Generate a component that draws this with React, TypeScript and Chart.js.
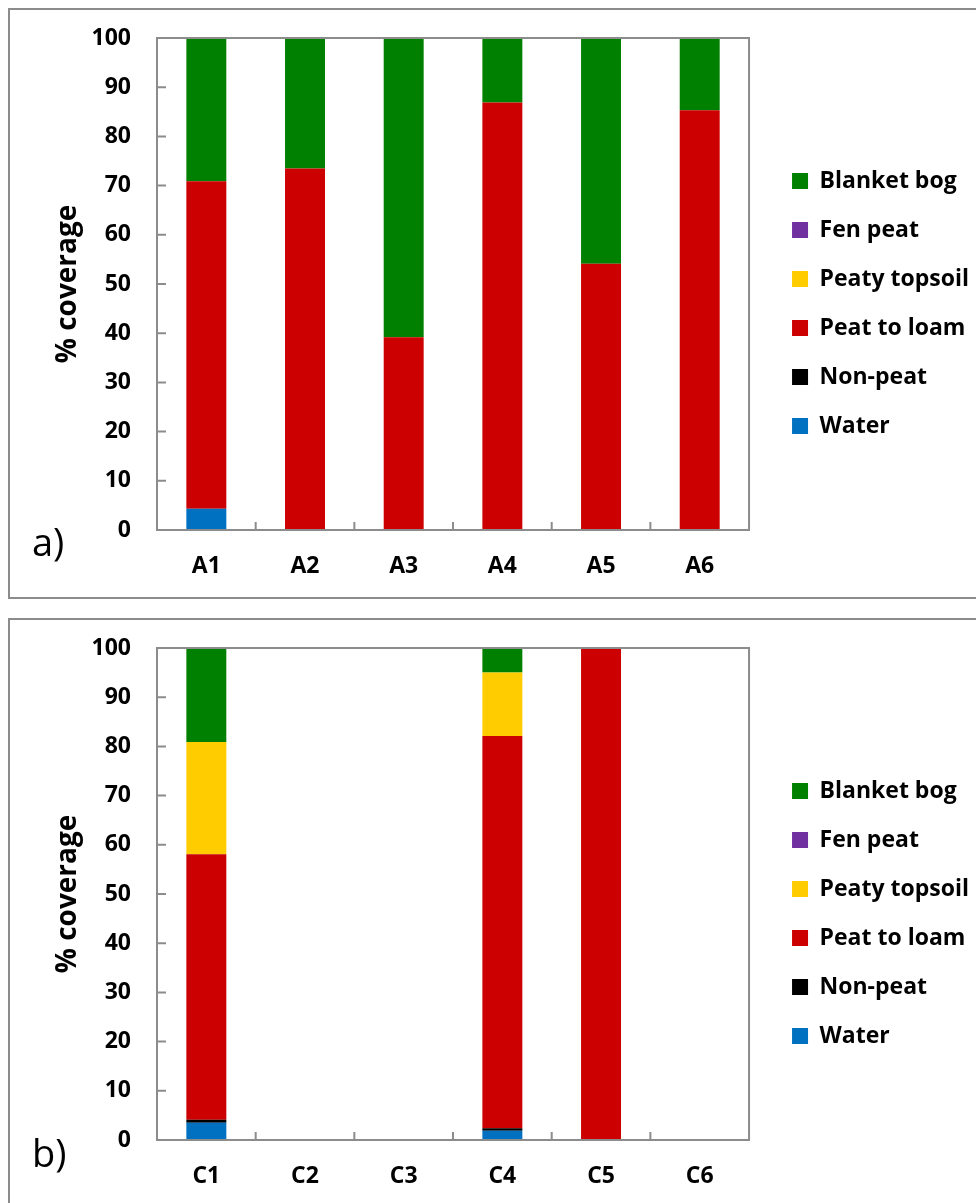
import React, { useEffect, useRef } from "react";
import { Chart, registerables } from "chart.js";

Chart.register(...registerables);

const FONT = "'Open Sans', 'DejaVu Sans', sans-serif";

const seriesNames = ["Water", "Non-peat", "Peat to loam", "Peaty topsoil", "Fen peat", "Blanket bog"];
const seriesColors = ["#0070C0", "#000000", "#CC0000", "#FFCC00", "#7030A0", "#008000"];
const yTickValues = [0, 10, 20, 30, 40, 50, 60, 70, 80, 90, 100];

const categoriesA = ["A1", "A2", "A3", "A4", "A5", "A6"];
const waterA = [4.3, 0, 0, 0, 0, 0];
const nonPeatA = [0, 0, 0, 0, 0, 0];
const peatToLoamA = [66.6, 73.5, 39.2, 86.9, 54.1, 85.3];
const peatyTopsoilA = [0, 0, 0, 0, 0, 0];
const fenPeatA = [0, 0, 0, 0, 0, 0];
const blanketBogA = [29.1, 26.5, 60.8, 13.1, 45.9, 14.7];

const categoriesC = ["C1", "C2", "C3", "C4", "C5", "C6"];
const waterC = [3.5, 0, 0, 1.9, 0, 0];
const nonPeatC = [0.6, 0, 0, 0.5, 0, 0];
const peatToLoamC = [54.0, 0, 0, 79.7, 100, 0];
const peatyTopsoilC = [22.8, 0, 0, 12.9, 0, 0];
const fenPeatC = [0, 0, 0, 0, 0, 0];
const blanketBogC = [19.1, 0, 0, 5.0, 0, 0];

const seriesA = [waterA, nonPeatA, peatToLoamA, peatyTopsoilA, fenPeatA, blanketBogA];
const seriesC = [waterC, nonPeatC, peatToLoamC, peatyTopsoilC, fenPeatC, blanketBogC];

const CANVAS_H = 587;
const AREA_LEFT = 147;
const AREA_TOP = 28;
const AREA_RIGHT = 739;
const AREA_BOTTOM = 520;
const LEGEND_GAP = 17;
const LEGEND_PAD = 26;
const LEGEND_FONT = 23;
const LEGEND_BOX = 16;

const framePlugin = {
  id: "frame",
  afterLayout(chart: any) {
    const lg = chart.legend;
    if (lg) {
      lg.left += LEGEND_GAP;
      lg.right += LEGEND_GAP;
    }
  },
  afterDatasetsDraw(chart: any) {
    const { ctx, chartArea, scales } = chart;
    const { left, top, right, bottom } = chartArea;
    const x = scales.x;
    const y = scales.y;
    ctx.save();
    ctx.strokeStyle = "#8c8c8c";
    ctx.lineWidth = 2;
    ctx.strokeRect(left, top, right - left, bottom - top);
    ctx.beginPath();
    y.ticks.forEach((t: any) => {
      const py = y.getPixelForValue(t.value);
      ctx.moveTo(left, py);
      ctx.lineTo(left + 9, py);
    });
    for (let i = 1; i < x.ticks.length; i++) {
      const px = (x.getPixelForValue(i - 1) + x.getPixelForValue(i)) / 2;
      ctx.moveTo(px, bottom);
      ctx.lineTo(px, bottom - 8);
    }
    ctx.stroke();
    ctx.restore();
  },
};

function makeChart(canvas: HTMLCanvasElement, W: number, categories: string[], series: number[][]) {
  canvas.width = W;
  canvas.height = CANVAS_H;
  canvas.style.width = W + "px";
  canvas.style.height = CANVAS_H + "px";
  const tickFont = { family: FONT, size: 23, weight: "bold" as const };
  return new Chart(canvas, {
    type: "bar",
    data: {
      labels: categories,
      datasets: seriesNames.map((name, i) => ({
        label: name,
        data: series[i],
        backgroundColor: seriesColors[i],
        borderWidth: 0,
        categoryPercentage: 1,
        barPercentage: 0.405,
      })),
    },
    options: {
      animation: false,
      responsive: false,
      maintainAspectRatio: false,
      layout: { padding: { left: 0, top: 0, bottom: 0, right: LEGEND_GAP } },
      plugins: {
        legend: {
          position: "right",
          reverse: true,
          maxWidth: 600,
          labels: {
            boxWidth: LEGEND_BOX,
            boxHeight: LEGEND_BOX,
            padding: LEGEND_PAD,
            color: "#000",
            font: { family: FONT, size: LEGEND_FONT, weight: "bold" },
          },
        },
        tooltip: { enabled: false },
      },
      scales: {
        x: {
          stacked: true,
          grid: { display: false, drawTicks: false },
          border: { display: false },
          ticks: { color: "#000", font: tickFont, padding: 23, maxRotation: 0 },
          afterFit: (s: any) => {
            s.height = CANVAS_H - AREA_BOTTOM;
            s.paddingLeft = 0;
            s.paddingRight = 0;
          },
        },
        y: {
          stacked: true,
          min: 0,
          max: 100,
          afterBuildTicks: (s: any) => {
            s.ticks = yTickValues.map((v) => ({ value: v }));
          },
          ticks: { color: "#000", font: tickFont, padding: 26 },
          grid: { display: false, drawTicks: false },
          border: { display: false },
          title: {
            display: true,
            text: "% coverage",
            color: "#000",
            font: { family: FONT, size: 28, weight: "bold" },
            padding: { top: 41, bottom: 0 },
          },
          afterFit: (s: any) => {
            s.width = AREA_LEFT;
            s.paddingTop = AREA_TOP;
            s.paddingBottom = 0;
          },
        },
      },
    } as any,
    plugins: [framePlugin],
  });
}

function Panel({ label, categories, series, top, labelTop }: { label: string; categories: string[]; series: number[][]; top: number; labelTop: number }) {
  const ref = useRef<HTMLCanvasElement | null>(null);

  useEffect(() => {
    const canvas = ref.current;
    if (!canvas) return;
    const mctx = document.createElement("canvas").getContext("2d")!;
    mctx.font = `bold ${LEGEND_FONT}px ${FONT}`;
    const maxW = Math.max(...seriesNames.map((n) => mctx.measureText(n).width));
    let W = Math.ceil(AREA_RIGHT + LEGEND_GAP + LEGEND_PAD + LEGEND_BOX + LEGEND_FONT / 2 + maxW + 2);
    let chart = makeChart(canvas, W, categories, series);
    const diff = AREA_RIGHT - chart.chartArea.right;
    if (Math.abs(diff) > 0.5) {
      chart.destroy();
      W = Math.round(W + diff);
      chart = makeChart(canvas, W, categories, series);
    }
    return () => chart.destroy();
  }, [categories, series]);

  return (
    <div
      style={{
        position: "absolute",
        left: 8,
        top,
        width: 1100,
        height: CANVAS_H,
        border: "2px solid #8c8c8c",
        background: "#fff",
      }}
    >
      <canvas ref={ref} style={{ position: "absolute", left: 0, top: 0, display: "block" }} />
      <div
        style={{
          position: "absolute",
          left: 22,
          top: labelTop,
          fontFamily: FONT,
          fontSize: 38,
          lineHeight: 1,
          color: "#000",
          whiteSpace: "nowrap",
        }}
      >
        {label}
      </div>
    </div>
  );
}

export default function App() {
  return (
    <div style={{ position: "fixed", left: 0, top: 0, width: 976, height: 1203, overflow: "hidden", background: "#fff" }}>
      <Panel label="a)" categories={categoriesA} series={seriesA} top={8} labelTop={512} />
      <Panel label="b)" categories={categoriesC} series={seriesC} top={618} labelTop={513} />
    </div>
  );
}
